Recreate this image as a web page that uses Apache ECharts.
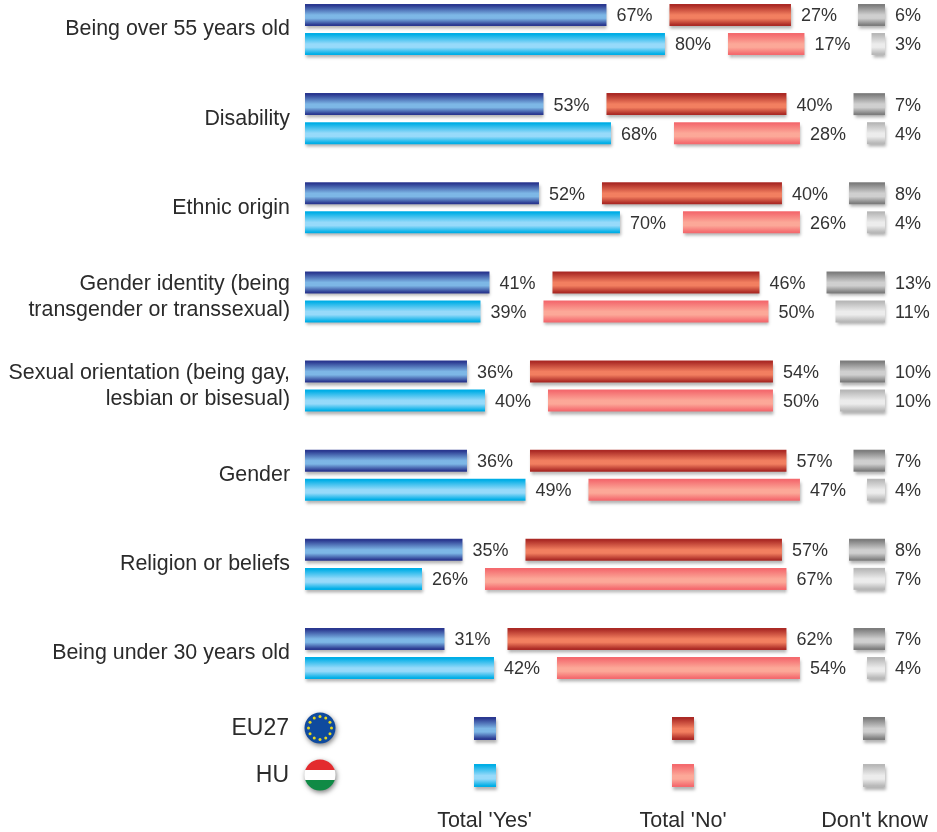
<!DOCTYPE html>
<html>
<head>
<meta charset="utf-8">
<style>html,body{margin:0;padding:0;background:#fff}#c{width:937px;height:832px}</style>
<script src="https://cdn.jsdelivr.net/npm/echarts@6/dist/echarts.min.js"></script>
</head>
<body>
<div id="c"></div>
<script>
const categories = ['Being over 55 years old','Disability','Ethnic origin','Gender identity (being\ntransgender or transsexual)','Sexual orientation (being gay,\nlesbian or bisesual)','Gender','Religion or beliefs','Being under 30 years old'];
const euYes = [67,53,52,41,36,36,35,31];
const euNo  = [27,40,40,46,54,57,57,62];
const euDk  = [6,7,8,13,10,7,8,7];
const huYes = [80,68,70,39,40,49,26,42];
const huNo  = [17,28,26,50,50,47,67,54];
const huDk  = [3,4,4,11,10,4,7,4];
const spacerA = categories.map(() => 14);
const spacerB = categories.map(() => 14.9);

const grad = (edge, mid) => ({type:'linear',x:0,y:0,x2:0,y2:1,colorStops:[
  {offset:0,color:edge},{offset:0.06,color:edge},{offset:0.5,color:mid},{offset:0.65,color:mid},{offset:0.95,color:edge},{offset:1,color:edge}]});
const skin = {
  euYes: grad('#2a3890','#7db7e6'), huYes: grad('#00aee6','#97dafa'),
  euNo:  grad('#ab2a25','#f27f60'), huNo:  grad('#f46a6e','#fca898'),
  euDk:  grad('#7d7d7d','#cfcfcf'), huDk:  grad('#b8b8b8','#ececec')
};
const pct = {show:true,position:'right',distance:10,offset:[0,1.5],formatter:'{c}%',fontFamily:'Liberation Sans',fontSize:18,color:'#333'};
const shadow = {shadowColor:'rgba(0,0,0,0.3)',shadowBlur:3,shadowOffsetX:1,shadowOffsetY:3};
const bar = (stack,name,data,color) => ({
  type:'bar',name,stack,data,barWidth:22,barGap:'32%',clip:false,label:pct,
  itemStyle:Object.assign({color},shadow),silent:true
});
const spacer = (stack,data) => ({type:'bar',stack,data,barWidth:22,barGap:'32%',clip:false,itemStyle:{color:'transparent'},silent:true});

const series = [
  bar('eu','EU27 Yes',euYes,skin.euYes), spacer('eu',spacerA),
  bar('eu','EU27 No',euNo,skin.euNo), spacer('eu',spacerB),
  bar('eu','EU27 DK',euDk,skin.euDk),
  bar('hu','HU Yes',huYes,skin.huYes), spacer('hu',spacerA),
  bar('hu','HU No',huNo,skin.huNo), spacer('hu',spacerB),
  bar('hu','HU DK',huDk,skin.huDk)
];

const swatch = (x,y,fill) => ({type:'rect',shape:{x,y,width:22,height:23},style:Object.assign({fill},shadow)});
const txt = (x,y,text,size,align) => ({type:'text',x,y,style:{text,fontFamily:'Liberation Sans',fontSize:size,fill:'#2b2b2b',align,verticalAlign:'middle'}});
const stars = [];
for (let i=0;i<12;i++){const a=i*Math.PI/6;stars.push({type:'circle',shape:{cx:320+11.5*Math.cos(a),cy:728+11.5*Math.sin(a),r:1.5},style:{fill:'#e6d820'}});}
const flagShadow = {shadowColor:'rgba(0,0,0,0.5)',shadowBlur:5,shadowOffsetX:1,shadowOffsetY:2};
const graphic = [
  txt(289,729,'EU27',23,'right'), txt(289,776,'HU',23,'right'),
  {type:'circle',shape:{cx:320,cy:728,r:15.5},style:Object.assign({fill:'#0f4a9e'},flagShadow)},
  ...stars,
  {type:'circle',shape:{cx:320,cy:775,r:15.5},style:Object.assign({fill:{type:'linear',x:0,y:0,x2:0,y2:1,colorStops:[
    {offset:0,color:'#e32b2e'},{offset:0.33,color:'#e32b2e'},{offset:0.34,color:'#ffffff'},{offset:0.66,color:'#ffffff'},{offset:0.67,color:'#0f8a45'},{offset:1,color:'#0f8a45'}]}},flagShadow)},
  swatch(474,717,skin.euYes), swatch(474,764,skin.huYes),
  swatch(672,717,skin.euNo), swatch(672,764,skin.huNo),
  swatch(863,717,skin.euDk), swatch(863,764,skin.huDk),
  txt(484.5,821,"Total 'Yes'",21.5,'center'), txt(683,821,"Total 'No'",21.5,'center'), txt(874.5,821,"Don't know",21.7,'center')
];

const chart = echarts.init(document.getElementById('c'),null,{renderer:'canvas'});
chart.setOption({
  animation:false,
  backgroundColor:'#fff',
  grid:{left:305,top:29.5,width:580,height:624},
  xAxis:{type:'value',min:0,max:128.9,show:false},
  yAxis:{type:'category',inverse:true,boundaryGap:false,data:categories,
    axisLine:{show:false},axisTick:{show:false},splitLine:{show:false},
    axisLabel:{margin:15,fontFamily:'Liberation Sans',fontSize:21.4,color:'#2b2b2b',align:'right',lineHeight:26,padding:[2,0,0,0]}},
  series,graphic
});
</script>
</body>
</html>
